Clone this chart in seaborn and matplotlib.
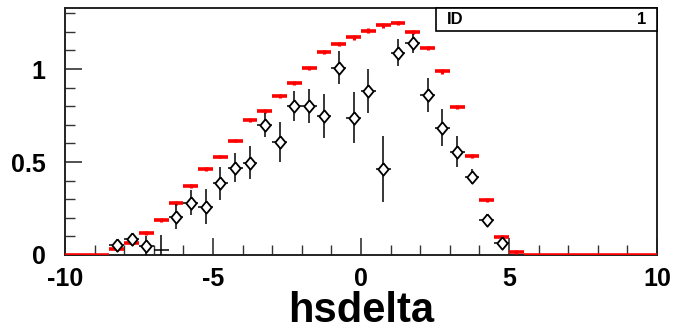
import numpy as np
import pandas as pd
import matplotlib
matplotlib.use("Agg")
import matplotlib.pyplot as plt
from matplotlib.patches import Rectangle
from matplotlib.ticker import MultipleLocator
import seaborn as sns

# bin layout: 40 bins of width 0.5 between -10 and 10
bin_lo = -10.0
bin_width = 0.5
n_bins = 40

# red reference histogram (content per bin)
ref_values = [0, 0, 0, 0.03, 0.063, 0.117, 0.188, 0.278, 0.371, 0.464,
              0.529, 0.615, 0.726, 0.776, 0.855, 0.926, 1.005, 1.091, 1.134, 1.17,
              1.206, 1.235, 1.246, 1.199, 1.113, 0.987, 0.797, 0.532, 0.296, 0.095,
              0.016, 0, 0, 0, 0, 0, 0, 0, 0, 0]
ref_errors = [0, 0, 0, 0.01, 0.01, 0.01, 0.01, 0.01, 0.01, 0.01,
              0.01, 0.01, 0.01, 0.01, 0.01, 0.01, 0.012, 0.012, 0.012, 0.012,
              0.012, 0.012, 0.012, 0.012, 0.012, 0.012, 0.01, 0.01, 0.01, 0.01,
              0.01, 0, 0, 0, 0, 0, 0, 0, 0, 0]

# black data points with errors
data_x = [-8.25, -7.75, -7.25, -6.25, -5.75, -5.25, -4.75, -4.25, -3.75, -3.25,
          -2.75, -2.25, -1.75, -1.25, -0.75, -0.25, 0.25, 0.75, 1.25, 1.75,
          2.25, 2.75, 3.25, 3.75, 4.25, 4.75]
data_y = [0.054, 0.084, 0.05, 0.206, 0.281, 0.26, 0.385, 0.47, 0.496, 0.699,
          0.609, 0.801, 0.801, 0.747, 1.007, 0.738, 0.882, 0.462, 1.088, 1.138,
          0.86, 0.685, 0.556, 0.421, 0.188, 0.063]
data_err = [0.02, 0.025, 0.05, 0.067, 0.067, 0.093, 0.09, 0.08, 0.09, 0.065,
            0.107, 0.083, 0.09, 0.117, 0.09, 0.136, 0.118, 0.177, 0.073, 0.05,
            0.09, 0.098, 0.082, 0.04, 0.03, 0.02]

# the lone point drawn without a marker
cross_x = [-6.75]
cross_y = [0.027]
cross_err = [0.08]

edges = bin_lo + bin_width * np.arange(n_bins + 1)
centers = 0.5 * (edges[:-1] + edges[1:])
ref = pd.DataFrame({"x": centers, "y": ref_values, "err": ref_errors})
data = pd.DataFrame({"x": data_x, "y": data_y, "err": data_err})

sns.set_theme(style="ticks")
plt.rcParams["font.family"] = ["Liberation Sans", "DejaVu Sans"]
plt.rcParams["font.weight"] = "bold"
plt.rcParams["text.color"] = "black"
plt.rcParams["xtick.labelcolor"] = "black"
plt.rcParams["ytick.labelcolor"] = "black"
plt.rcParams["axes.labelcolor"] = "black"
plt.rcParams["axes.unicode_minus"] = False

fig = plt.figure(figsize=(6.77, 3.32), dpi=100)
ax = fig.add_axes([65 / 677, 77 / 332, 592 / 677, 247 / 332])

# red histogram: horizontal bars with small vertical errors
ax.hlines(ref["y"], edges[:-1], edges[1:], color="red", lw=2.6, zorder=3)
ax.vlines(ref["x"], ref["y"] - ref["err"], ref["y"] + ref["err"],
          color="red", lw=2.2, zorder=3)

# black points: error bars then open diamonds
ax.errorbar(data["x"], data["y"], yerr=data["err"], xerr=bin_width / 2,
            fmt="none", ecolor="black", elinewidth=1.1, capsize=0, zorder=3)
ax.errorbar(cross_x, cross_y, yerr=cross_err, xerr=bin_width / 2,
            fmt="none", ecolor="black", elinewidth=1.1, capsize=0, zorder=3)
diamond = [(0, 1), (0.83, 0), (0, -1), (-0.83, 0), (0, 1)]
sns.scatterplot(data=data, x="x", y="y", marker=diamond, s=80,
                facecolor="white", edgecolor="black", linewidth=1.3,
                ax=ax, zorder=4, legend=False)

ax.set_xlim(-10, 10)
ax.set_ylim(0, 1.328)
ax.xaxis.set_major_locator(MultipleLocator(5))
ax.xaxis.set_minor_locator(MultipleLocator(1))
ax.yaxis.set_minor_locator(MultipleLocator(0.1))
ax.set_yticks([0, 0.5, 1])
ax.set_yticklabels(["0", "0.5", "1"])
ax.tick_params(which="major", direction="in", length=12, width=1.2,
               labelsize=18, color="#333333")
ax.tick_params(which="minor", direction="in", length=7, width=1.0,
               color="#333333")
ax.tick_params(axis="x", pad=9)
ax.tick_params(axis="y", pad=14)
for lab in ax.get_xticklabels() + ax.get_yticklabels():
    lab.set_fontweight("bold")
for side in ["left", "right", "top", "bottom"]:
    ax.spines[side].set_visible(True)
    ax.spines[side].set_linewidth(1.4)
    ax.spines[side].set_color("#222222")

ax.set_xlabel("hsdelta", fontsize=30, fontweight="bold", labelpad=0)
ax.set_ylabel("")

# stats box in the upper right
fig.patches.append(Rectangle((436 / 677, 1 - 31 / 332), 221 / 677, 23 / 332,
                             transform=fig.transFigure, facecolor="white",
                             edgecolor="black", lw=1.2, zorder=10))
fig.text(447 / 677, 1 - 19.5 / 332, "ID", fontsize=12, fontweight="bold",
         ha="left", va="center", zorder=11)
fig.text(646 / 677, 1 - 19.5 / 332, "1", fontsize=12, fontweight="bold",
         ha="right", va="center", zorder=11)

fig.savefig("out.png", dpi=100)
